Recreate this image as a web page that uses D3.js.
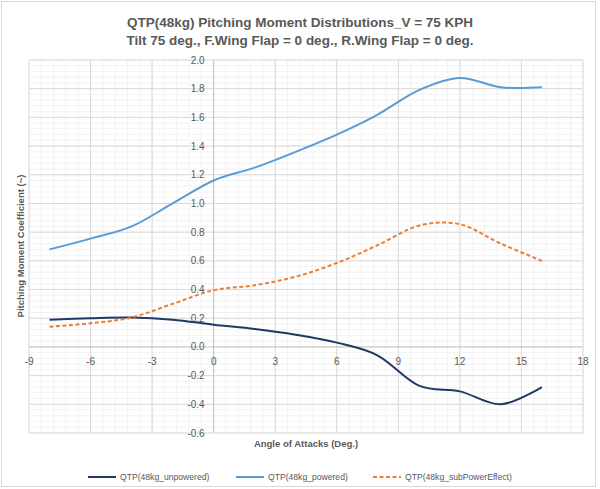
<!DOCTYPE html>
<html lang="en">
<head>
<meta charset="utf-8">
<title>QTP pitching moment</title>
<script src="https://d3js.org/d3.v7.min.js"></script>
<style>
  body { margin: 0; background: #fff; }
  text { font-family: "Liberation Sans", "DejaVu Sans", sans-serif; fill: #595959; }
</style>
</head>
<body>
<script>
// angle of attack (deg)
var alpha = [-8, -6, -4, -2, 0, 2, 4, 6, 8, 10, 12, 14, 16];
var unpowered = [0.19, 0.20, 0.205, 0.19, 0.155, 0.125, 0.085, 0.03, -0.06, -0.27, -0.31, -0.40, -0.28];
var powered = [0.68, 0.755, 0.84, 1.0, 1.16, 1.25, 1.36, 1.48, 1.62, 1.79, 1.875, 1.81, 1.81];
var subPower = [0.14, 0.165, 0.205, 0.30, 0.395, 0.43, 0.49, 0.585, 0.71, 0.845, 0.855, 0.72, 0.60];

var xTicks = [-9, -6, -3, 0, 3, 6, 9, 12, 15, 18];
var yTicks = [-0.6, -0.4, -0.2, 0.0, 0.2, 0.4, 0.6, 0.8, 1.0, 1.2, 1.4, 1.6, 1.8, 2.0];

var series = [
  { name: "QTP(48kg_unpowered)", values: unpowered, color: "#203864", dash: null },
  { name: "QTP(48kg_powered)", values: powered, color: "#5B9BD5", dash: null },
  { name: "QTP(48kg_subPowerEffect)", values: subPower, color: "#ED7D31", dash: "4,2.5" }
];

var width = 600, height = 489;
var svg = d3.select("body").append("svg")
    .attr("width", width)
    .attr("height", height);

svg.append("rect")
    .attr("x", 1.5).attr("y", 1.5)
    .attr("width", 594).attr("height", 485)
    .attr("fill", "#fff").attr("stroke", "#D9D9D9");

var x = d3.scaleLinear().domain([-9, 18]).range([29, 583]);
var y = d3.scaleLinear().domain([-0.6, 2.0]).range([433, 60]);

// minor grid
var g = svg.append("g");
g.selectAll(".mx").data(d3.range(-9, 18.001, 0.6)).enter().append("line")
    .attr("x1", d => x(d)).attr("x2", d => x(d))
    .attr("y1", y(2.0)).attr("y2", y(-0.6))
    .attr("stroke", "#F2F2F2");
g.selectAll(".my").data(d3.range(-0.6, 2.0001, 0.04)).enter().append("line")
    .attr("y1", d => y(d)).attr("y2", d => y(d))
    .attr("x1", x(-9)).attr("x2", x(18))
    .attr("stroke", "#F2F2F2");

// major grid
g.selectAll(".Mx").data(xTicks).enter().append("line")
    .attr("x1", d => x(d)).attr("x2", d => x(d))
    .attr("y1", y(2.0)).attr("y2", y(-0.6))
    .attr("stroke", d => d === 0 ? "#BFBFBF" : "#D9D9D9");
g.selectAll(".My").data(yTicks).enter().append("line")
    .attr("y1", d => y(d)).attr("y2", d => y(d))
    .attr("x1", x(-9)).attr("x2", x(18))
    .attr("stroke", d => Math.abs(d) < 1e-9 ? "#BFBFBF" : "#D9D9D9");

// tick labels
svg.selectAll(".xl").data(xTicks).enter().append("text")
    .attr("x", d => x(d)).attr("y", y(0) + 18)
    .attr("text-anchor", "middle")
    .attr("font-size", 10)
    .text(d => d);
svg.selectAll(".yl").data(yTicks).enter().append("text")
    .attr("x", x(0) - 9).attr("y", d => y(d) + 3.5)
    .attr("text-anchor", "end")
    .attr("font-size", 10)
    .text(d => d.toFixed(1));

// lines
var line = d3.line()
    .x((d, i) => x(alpha[i]))
    .y(d => y(d))
    .curve(d3.curveCatmullRom.alpha(0));

svg.selectAll(".series").data(series).enter().append("path")
    .attr("d", d => line(d.values))
    .attr("fill", "none")
    .attr("stroke", d => d.color)
    .attr("stroke-width", 2)
    .attr("stroke-dasharray", d => d.dash);

// titles
svg.append("text").attr("x", 300).attr("y", 27)
    .attr("text-anchor", "middle").attr("font-size", 13.5).attr("font-weight", "bold")
    .text("QTP(48kg) Pitching Moment Distributions_V = 75 KPH");
svg.append("text").attr("x", 300).attr("y", 45)
    .attr("text-anchor", "middle").attr("font-size", 13.5).attr("font-weight", "bold")
    .text("Tilt 75 deg., F.Wing Flap = 0 deg., R.Wing Flap = 0 deg.");

svg.append("text").attr("x", 306).attr("y", 447)
    .attr("text-anchor", "middle").attr("font-size", 9.5).attr("font-weight", "bold")
    .text("Angle of Attacks (Deg.)");
svg.append("text")
    .attr("transform", "translate(24,246) rotate(-90)")
    .attr("text-anchor", "middle").attr("font-size", 9.5).attr("font-weight", "bold")
    .text("Pitching Moment Coefficient (~)");

// legend
var legX = [88, 236, 373];
var leg = svg.selectAll(".leg").data(series).enter().append("g")
    .attr("transform", (d, i) => "translate(" + legX[i] + ",477)");
leg.append("line")
    .attr("x1", 0).attr("x2", 28).attr("y1", 0).attr("y2", 0)
    .attr("stroke", d => d.color).attr("stroke-width", 2)
    .attr("stroke-dasharray", d => d.dash);
leg.append("text")
    .attr("x", 32).attr("y", 3.2)
    .attr("font-size", 8.6)
    .text(d => d.name);
</script>
</body>
</html>
